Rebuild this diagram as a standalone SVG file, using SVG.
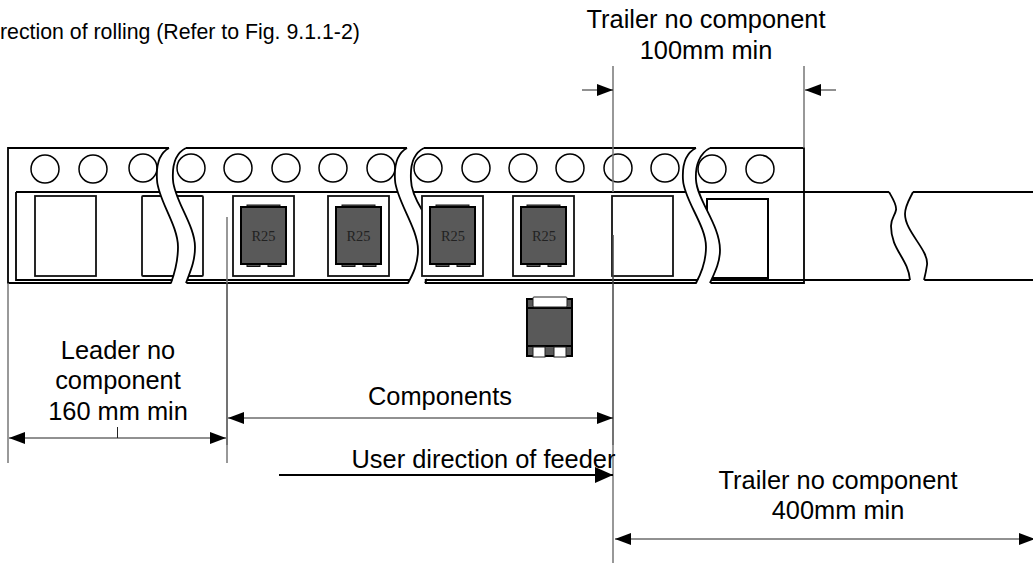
<svg xmlns="http://www.w3.org/2000/svg" width="1033" height="563" viewBox="0 0 1033 563">
<style>
text{font-family:"Liberation Sans",Arial,sans-serif;font-size:25.4px;fill:#000;text-anchor:middle}
text.small{font-size:21.3px;text-anchor:start}
text.mark{font-family:"Liberation Serif","Times New Roman",serif;font-size:14.4px;fill:#222}
.tape{fill:none;stroke:#000;stroke-width:1.800}
.hole{fill:#fff;stroke:#000;stroke-width:1.500}
.gap{fill:#fff;stroke:none}
.edge{fill:none;stroke:#000;stroke-width:1.800}
.pocket{fill:#fff;stroke:#111;stroke-width:1.800}
.pocket.bold{stroke:#000;stroke-width:2}
.body{fill:#595959;stroke:#000;stroke-width:2}
.tab{fill:#595959;stroke:#111;stroke-width:1}
.pad{fill:#fff;stroke:#222;stroke-width:1}
.ext{fill:none;stroke:#777;stroke-width:1.500}
.extd{fill:none;stroke:#444;stroke-width:1.500}
.dim{fill:none;stroke:#222;stroke-width:1}
</style>
<defs>
<marker id="head" markerUnits="userSpaceOnUse" markerWidth="16" markerHeight="14" refX="16" refY="7" orient="auto-start-reverse"><path d="M0,1 L16,7 L0,13 Z" fill="#000"/></marker>
<marker id="headBig" markerUnits="userSpaceOnUse" markerWidth="18" markerHeight="18" refX="18" refY="9" orient="auto"><path d="M0,1 L18,9 L0,17 Z" fill="#000"/></marker>
<g id="part">
<rect class="tab" x="6" y="-2" width="33" height="2"/>
<rect class="tab" x="6" y="57" width="13" height="2.500"/>
<rect class="tab" x="27" y="57" width="13" height="2.500"/>
<rect class="body" x="0" y="0" width="45" height="57"/>
</g>
</defs>
<g id="tape">
<path class="tape" d="M8,148 H804 V283 H8 Z"/>
<path class="tape" d="M16,192 H889 M913,192 H1033 M16,192 V280 H910 M924,280 H1033"/>
<g id="holes">
<circle class="hole" cx="45" cy="169" r="14"/><circle class="hole" cx="93" cy="169" r="14"/><circle class="hole" cx="143" cy="168" r="14"/>
<circle class="hole" cx="191" cy="168" r="14"/><circle class="hole" cx="238" cy="168" r="14"/><circle class="hole" cx="286" cy="168" r="14"/><circle class="hole" cx="333" cy="168" r="14"/><circle class="hole" cx="381" cy="168" r="14"/>
<circle class="hole" cx="428" cy="168" r="14"/><circle class="hole" cx="476" cy="168" r="14"/><circle class="hole" cx="523" cy="168" r="14"/><circle class="hole" cx="570" cy="168" r="14"/><circle class="hole" cx="618" cy="168" r="14"/><circle class="hole" cx="665" cy="168" r="14"/>
<circle class="hole" cx="712" cy="169" r="14"/><circle class="hole" cx="760" cy="169" r="14"/>
</g>
</g>
<g id="break-2">
<path class="gap" d="M407,146 V148 C398,153 394,165 395,180 C396,200 418,228 418,250 C418,264 413,274 408,285 H425 C424,260 423,230 422,210 C416,200 411,190 411,180 C410,165 414,153 424,148 V146 Z"/>
<path class="edge" d="M407,148 C398,153 394,165 395,180 C396,200 418,228 418,250 C418,264 413,274 408,283 M424,148 C414,153 410,165 411,180 C411,190 416,200 422,210 M425,283 L427,279"/>
</g>
<g id="pocket-1"><rect class="pocket" x="35" y="196" width="61" height="80"/></g>
<g id="pocket-2"><rect class="pocket" x="142" y="196" width="61" height="80" rx="1"/></g>
<g id="pocket-3"><rect class="pocket" x="233" y="196" width="61" height="80"/><use href="#part" x="241" y="207"/><text class="mark" x="263.500" y="241">R25</text></g>
<g id="pocket-4"><rect class="pocket" x="328" y="196" width="61" height="80"/><use href="#part" x="336" y="207"/><text class="mark" x="358.500" y="241">R25</text></g>
<g id="pocket-5"><rect class="pocket" x="422" y="196" width="61" height="80"/><use href="#part" x="430" y="207"/><text class="mark" x="453" y="241">R25</text></g>
<g id="pocket-6"><rect class="pocket" x="513" y="196" width="61" height="80"/><use href="#part" x="521" y="207"/><text class="mark" x="544" y="241">R25</text></g>
<g id="pocket-7"><rect class="pocket" x="612" y="196" width="61" height="80"/></g>
<g id="pocket-8"><rect class="pocket bold" x="707" y="199" width="61" height="79"/></g>
<g id="break-1">
<path class="gap" d="M169,146 V148 C160,153 156,165 157,180 C158,200 178,225 178,247 C178,262 175,272 171,285 H186 C190,272 195,262 195,247 C195,225 174,200 173,180 C172,165 176,153 186,148 V146 Z"/>
<path class="edge" d="M169,148 C160,153 156,165 157,180 C158,200 178,225 178,247 C178,262 175,272 171,283 M186,283 C190,272 195,262 195,247 C195,225 174,200 173,180 C172,165 176,153 186,148"/>
</g>
<g id="break-3">
<path class="gap" d="M696,146 V148 C686,153 682,165 683,180 C684,200 706,225 706,247 C706,262 702,272 696,285 H710 C715,272 720,262 720,250 C720,225 697,200 696,180 C695,165 700,153 710,148 V146 Z"/>
<path class="edge" d="M696,148 C686,153 682,165 683,180 C684,200 706,225 706,247 C706,262 702,272 696,283 M710,283 C715,272 720,262 720,250 C720,225 697,200 696,180 C695,165 700,153 710,148"/>
</g>
<g id="break-4">
<path class="gap" d="M889,190 V192 L896,210 L891,223 C891,240 908,258 910,282 H924 C930,262 905,240 905,213 L913,192 V190 Z"/>
<path class="edge" d="M889,192 C893,199 897,205 896,210 C895,216 891,218 891,226 C891,250 908,258 910,280 M913,192 C909,200 905,206 905,214 C905,232 929,250 927,265 C926,272 925,276 924,280"/>
</g>
<g id="loose-part">
<rect class="body" x="527" y="299" width="45" height="57"/>
<path class="edge" d="M527,308 H572 M527,346 H572"/>
<rect class="pad" x="533" y="297" width="34" height="10" rx="1"/>
<rect class="pad" x="533" y="347" width="12" height="10"/>
<rect class="pad" x="554" y="347" width="12" height="10"/>
</g>
<g id="connectors">
<path class="ext" d="M8,283 V463"/>
<path class="ext" d="M227,217 V283 M227,445 V463"/>
<path class="extd" d="M227,283 V445"/>
<path class="ext" d="M613,66 V192 M804,66 V148 M613,445 V563"/>
<path class="extd" d="M613,235 V445"/>
<path class="dim" d="M9,438 H226" marker-start="url(#head)" marker-end="url(#head)"/>
<path class="dim" d="M117.500,427 V438"/>
<path class="dim" d="M228,418 H613" marker-start="url(#head)" marker-end="url(#head)"/>
<path class="edge" d="M279,475 H613" marker-end="url(#headBig)"/>
<path class="dim" d="M615,539 H1035" marker-start="url(#head)" marker-end="url(#head)"/>
<path class="dim" d="M582,90 H613" marker-end="url(#head)"/>
<path class="dim" d="M836,90 H805" marker-end="url(#head)"/>
</g>
<g id="labels">
<text class="small" x="0" y="39">rection of rolling (Refer to Fig. 9.1.1-2)</text>
<text x="706" y="28">Trailer no component</text>
<text x="706" y="59">100mm min</text>
<text x="118" y="359">Leader no</text>
<text x="118" y="389">component</text>
<text x="118" y="420">160 mm min</text>
<text x="440" y="405">Components</text>
<text x="483.500" y="468">User direction of feeder</text>
<text x="838" y="489">Trailer no component</text>
<text x="838" y="519">400mm min</text>
</g>
</svg>
